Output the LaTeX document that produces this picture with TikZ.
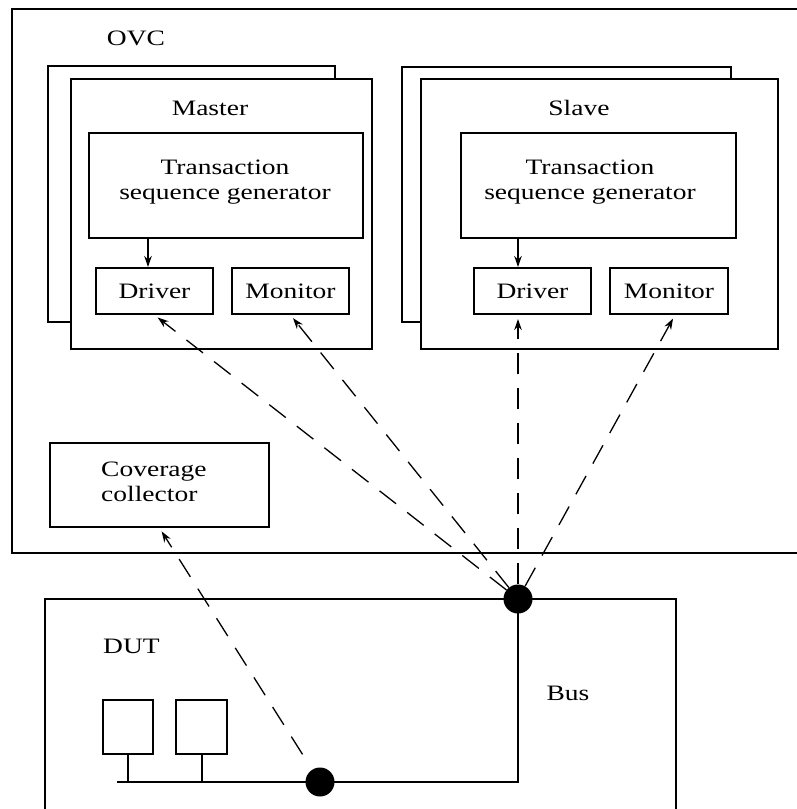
\documentclass[tikz,border=0pt]{standalone}
\usepackage{fontspec}
\setmainfont{Liberation Serif}
\usepackage{graphicx}
\usetikzlibrary{arrows.meta}
% slightly widened serif lettering
\newcommand\wx[1]{\scalebox{1.25}[1]{#1}}
\begin{document}
\begin{tikzpicture}[x=1pt,y=-1pt,
  frame/.style={draw, line width=2pt, fill=white, inner sep=0pt, rectangle},
  lbl/.style={inner sep=0pt, font=\fontsize{22}{25}\selectfont},
  dot/.style={circle, fill=black, inner sep=0pt, minimum size=29pt},
  wire/.style={line width=2pt},
  arr/.style={line width=1.6pt, -{Stealth[length=11pt,width=7.5pt]}},
  link/.style={line width=1.3pt, dash pattern=on 21pt off 14pt,
    -{Stealth[length=11pt,width=7.5pt]}, shorten >=4pt},
  linkthick/.style={link, line width=2.2pt}]
\useasboundingbox (0,0) rectangle (797,809);
\clip (0,0) rectangle (797,809);

% verification environment frame
\node[frame, minimum width=801pt, minimum height=544pt] (ovc) at (412.5,281) {};
\node[lbl, anchor=base] (ovct) at (136,45) {\wx{OVC}};

% master agent (stacked)
\node[frame, minimum width=287pt, minimum height=256pt] (mback) at (191.5,194) {};
\node[frame, minimum width=301pt, minimum height=270pt] (mfront) at (221.5,214) {};
\node[lbl, anchor=base] (mlab) at (210,115) {\wx{Master}};
\node[frame, minimum width=274pt, minimum height=105pt] (mtsg) at (226,185.5) {};
\node[lbl, align=center] (mtsgt) at (225,182.4) {\wx{Transaction}\\\wx{sequence generator}};
\node[frame, lbl, draw, line width=2pt, minimum width=117pt, minimum height=46pt] (mdrv) at (154.5,291) {\wx{Driver}};
\node[frame, lbl, draw, line width=2pt, minimum width=117pt, minimum height=46pt] (mmon) at (290.5,291) {\wx{Monitor}};

% slave agent (stacked)
\node[frame, minimum width=329pt, minimum height=255pt] (sback) at (566.5,194.5) {};
\node[frame, minimum width=357pt, minimum height=270pt] (sfront) at (599.5,214) {};
\node[lbl, anchor=base] (slab) at (579,115) {\wx{Slave}};
\node[frame, minimum width=275pt, minimum height=105pt] (stsg) at (598.5,185.5) {};
\node[lbl, align=center] (ststt) at (590,182.4) {\wx{Transaction}\\\wx{sequence generator}};
\node[frame, lbl, draw, line width=2pt, minimum width=117pt, minimum height=46pt] (sdrv) at (532.5,291) {\wx{Driver}};
\node[frame, lbl, draw, line width=2pt, minimum width=118pt, minimum height=46pt] (smon) at (669,291) {\wx{Monitor}};

% coverage collector
\node[frame, minimum width=219pt, minimum height=84pt] (cov) at (159.5,485) {};
\node[lbl, align=left, anchor=west] (covt) at (101,482) {\wx{Coverage}\\\wx{collector}};

% design under test
\node[frame, fill=none, minimum width=631pt, minimum height=242pt] (dut) at (360.5,720) {};
\node[lbl, anchor=base west] (dutt) at (103,653) {\wx{DUT}};
\node[lbl, anchor=base] (bust) at (568,700) {\wx{Bus}};
\node[frame, minimum width=50pt, minimum height=54pt] (b1) at (128,727) {};
\node[frame, minimum width=51pt, minimum height=54pt] (b2) at (201.5,727) {};

% bus taps
\node[dot] (bdot) at (320,782) {};
\node[dot] (tdot) at (518,599) {};
\coordinate (busw) at (117,782);
\coordinate (mx) at (148,0);

\draw[wire] (busw) -- (bdot.center) -- (bdot.center -| tdot.center) -- (tdot.center);
\draw[wire] (b1.south) -- (b1.south |- busw);
\draw[wire] (b2.south) -- (b2.south |- busw);

% generator to driver
\draw[arr] (mtsg.south -| mx) -- (mdrv.north -| mx);
\draw[arr] (stsg.south -| tdot) -- (sdrv.north -| tdot);

% bus observation links
\draw[link] (tdot) -- (mdrv.south);
\draw[link] (tdot) -- (mmon.south);
\draw[linkthick] (tdot) -- (tdot |- sdrv.south);
\draw[link] (tdot) -- ([xshift=6pt]smon.south);
\draw[link, shorten <=18pt] (bdot) -- (cov.south);
\end{tikzpicture}
\end{document}
